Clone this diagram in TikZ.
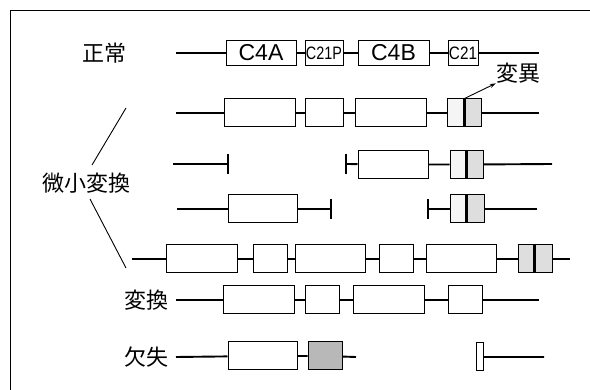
\documentclass[tikz,border=0pt]{standalone}
\usepackage{fontspec}
\setmainfont{Liberation Sans}
\newfontfamily\jp{Noto Sans CJK JP}
\usetikzlibrary{arrows.meta}
\definecolor{dotL}{gray}{0.96}
\definecolor{dotR}{gray}{0.87}
\definecolor{dotD}{gray}{0.72}
\begin{document}
\begin{tikzpicture}[x=1pt,y=-1pt,
  box/.style={draw, line width=1pt, inner sep=0pt, minimum height=28pt, anchor=center},
  gl/.style={line width=1.9pt},
  tk/.style={line width=1.9pt},
  barline/.style={line width=3pt},
  lbl/.style={font=\jp\fontsize{22}{22}\selectfont, inner sep=0pt},
  big/.style={font=\fontsize{23}{23}\selectfont},
  small/.style={font=\fontsize{18}{18}\selectfont},
  diag/.style={line width=0.9pt},
  arr/.style={line width=0.9pt, -{Stealth[length=6pt,width=4pt]}}
]
\useasboundingbox (0,0) rectangle (590,390);
% frame
\draw[line width=1pt] (10,390) -- (10,11) -- (590,11);

% ---------- row 1: normal ----------
\node[lbl] (lnorm) at (104,53) {正常};
\coordinate (s1) at (176,53);
\coordinate (e1) at (539,53);
\node[box, minimum height=25pt, minimum width=70pt, big] (r1a) at (261,53) {C4A};
\node[box, minimum height=25pt, minimum width=38pt, small] (r1b) at (324,53) {\scalebox{0.8}[1]{C21P}};
\node[box, minimum height=25pt, minimum width=71pt, big] (r1c) at (393.5,53) {C4B};
\node[box, minimum height=25pt, minimum width=30pt, small] (r1d) at (463,53) {\scalebox{0.85}[1]{C21}};
\draw[gl] (s1) -- (r1a) (r1a) -- (r1b) (r1b) -- (r1c) (r1c) -- (r1d) (r1d) -- (e1);

% ---------- row 2 ----------
\coordinate (s2) at (176,113);
\coordinate (e2) at (539,113);
\node[box, minimum width=71pt] (r2a) at (259.5,113) {};
\node[box, minimum width=38pt] (r2b) at (324,113) {};
\node[box, minimum width=71pt] (r2c) at (390.5,113) {};
\node[box, minimum width=17pt, fill=dotL] (r2d) at (455.5,113) {};
\node[box, minimum width=17pt, fill=dotR] (r2e) at (472.5,113) {};
\draw[barline] (r2d.north east) -- (r2d.south east);
\draw[gl] (s2) -- (r2a) (r2a) -- (r2b) (r2b) -- (r2c) (r2c) -- (r2d) (r2e) -- (e2);
\node[lbl] (mut) at (518,73) {変異};
\draw[arr] (r2d.north east) -- (mut.south west);

% ---------- row 3 ----------
\coordinate (s3) at (173,164);
\coordinate (t3a) at (228,164);
\coordinate (t3b) at (346,164);
\coordinate (e3) at (552,164);
\node[box, minimum width=70pt] (r3a) at (393,164.5) {};
\node[box, minimum width=16pt, fill=dotL] (r3b) at (458,164.5) {};
\node[box, minimum width=17pt, fill=dotR] (r3c) at (474.5,164.5) {};
\draw[barline] (r3b.north east) -- (r3b.south east);
\draw[gl] (s3) -- (t3a) (t3b) -- (r3a) (r3a) -- (r3b) (r3c) -- (e3);
\draw[tk] ([yshift=10pt]t3a) -- ([yshift=-10pt]t3a);
\draw[tk] ([yshift=10pt]t3b) -- ([yshift=-10pt]t3b);

% ---------- row 4 ----------
\coordinate (s4) at (177,209);
\coordinate (t4a) at (331,209);
\coordinate (t4b) at (428,209);
\coordinate (e4) at (537,209);
\node[box, minimum width=69pt] (r4a) at (262.5,209) {};
\node[box, minimum width=16pt, fill=dotL] (r4b) at (458,209) {};
\node[box, minimum width=18pt, fill=dotR] (r4c) at (475,209) {};
\draw[barline] (r4b.north east) -- (r4b.south east);
\draw[gl] (s4) -- (r4a) (r4a) -- (t4a) (t4b) -- (r4b) (r4c) -- (e4);
\draw[tk] ([yshift=10pt]t4a) -- ([yshift=-10pt]t4a);
\draw[tk] ([yshift=10pt]t4b) -- ([yshift=-10pt]t4b);

% ---------- micro-conversion label ----------
\node[lbl] (lmicro) at (86,183) {微小変換};
\coordinate (d1a) at (126,108);
\coordinate (d1b) at (92,165);
\coordinate (d2a) at (90,199);
\coordinate (d2b) at (126,268);
\draw[diag] (d1b) -- (d1a);
\draw[diag] (d2a) -- (d2b);

% ---------- row 5 ----------
\coordinate (s5) at (132,259);
\coordinate (e5) at (570,259);
\node[box, minimum width=71pt] (r5a) at (201.5,259) {};
\node[box, minimum width=34pt] (r5b) at (270,259) {};
\node[box, minimum width=70pt] (r5c) at (330,259) {};
\node[box, minimum width=34pt] (r5d) at (396,259) {};
\node[box, minimum width=70pt] (r5e) at (461,259) {};
\node[box, minimum width=16pt, fill=dotR] (r5f) at (526,259) {};
\node[box, minimum width=18pt, fill=dotR] (r5g) at (543,259) {};
\draw[barline] (r5f.north east) -- (r5f.south east);
\draw[gl] (s5) -- (r5a) (r5a) -- (r5b) (r5b) -- (r5c) (r5c) -- (r5d) (r5d) -- (r5e) (r5e) -- (r5f) (r5g) -- (e5);

% ---------- row 6: conversion ----------
\node[lbl] (lconv) at (146,300) {変換};
\coordinate (s6) at (176,300);
\coordinate (e6) at (539,300);
\node[box, minimum width=71pt] (r6a) at (258.5,300) {};
\node[box, minimum width=34pt] (r6b) at (322,300) {};
\node[box, minimum width=71pt] (r6c) at (388.5,300) {};
\node[box, minimum width=34pt] (r6d) at (465,300) {};
\draw[gl] (s6) -- (r6a) (r6a) -- (r6b) (r6b) -- (r6c) (r6c) -- (r6d) (r6d) -- (e6);

% ---------- row 7: deletion ----------
\node[lbl] (ldel) at (146,357) {欠失};
\coordinate (s7) at (176,357);
\coordinate (m7) at (356,357);
\coordinate (e7) at (544,357);
\node[box, minimum width=69pt] (r7a) at (262.5,356) {};
\node[box, minimum width=34pt, fill=dotD] (r7b) at (325,356) {};
\node[box, minimum width=7pt] (r7c) at (479.5,357) {};
\draw[gl] (s7) -- (r7a) (r7a) -- (r7b) (r7b) -- (m7) (r7c) -- (e7);
\end{tikzpicture}
\end{document}
